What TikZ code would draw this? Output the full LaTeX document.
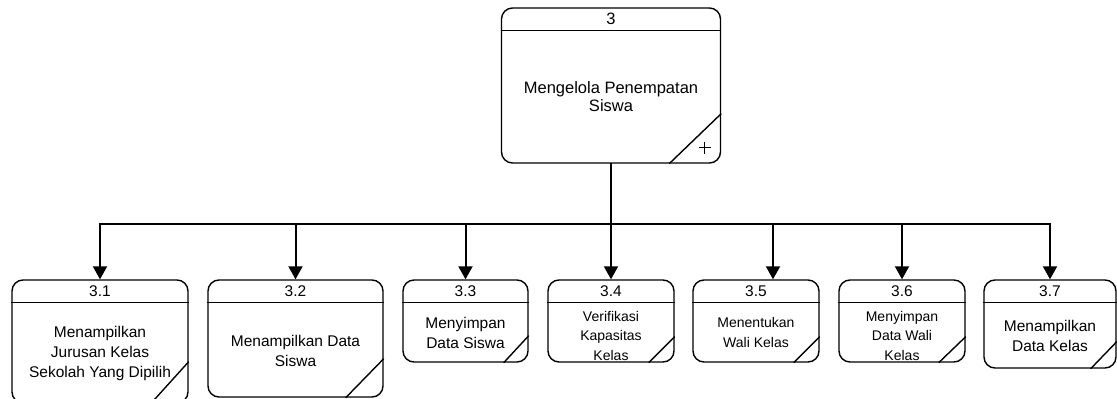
\documentclass[tikz,border=0pt]{standalone}
\usepackage{fontspec}
\setmainfont{Liberation Sans}
\usetikzlibrary{arrows.meta}
\tikzset{
  proc/.style={draw, line width=1.4pt, rounded corners=11pt, inner sep=0pt},
  sep/.style={line width=1.4pt},
  txt/.style={align=center, inner sep=0pt},
  bigtxt/.style={txt, font=\fontsize{16.5}{18}\selectfont},
  midtxt/.style={txt, font=\fontsize{15.5}{20}\selectfont},
  smalltxt/.style={txt, font=\fontsize{14}{19.5}\selectfont},
  bus/.style={line width=2pt, line cap=rect},
  arr/.style={line width=2pt, -{Triangle[length=13pt,width=14pt]}}
}
\begin{document}
\begin{tikzpicture}[x=1pt,y=-1pt]
\clip (0,0) rectangle (1117,399);

\node[proc, minimum width=219pt, minimum height=155pt] (p3) at (611,85.5) {};
\draw[sep] ([yshift=-23pt]p3.north west) -- ([yshift=-23pt]p3.north east);
\draw[sep] ([xshift=-52pt]p3.south east) -- ([yshift=50pt]p3.south east);
\draw[line width=0.8pt] (698.5,147.5) -- (710.5,147.5) (704.5,141.5) -- (704.5,153.5);
\node[bigtxt] (p3n) at ([yshift=-11.5pt]p3.north) {3};
\node[bigtxt] (p3t) at (611,97) {Mengelola Penempatan\\Siswa};

\node[proc, minimum width=176pt, minimum height=123pt] (p31) at (100,341.5) {};
\node[proc, minimum width=175pt, minimum height=117pt] (p32) at (295.5,338.5) {};
\node[proc, minimum width=125pt, minimum height=82pt] (p33) at (465.5,321) {};
\node[proc, minimum width=126pt, minimum height=82pt] (p34) at (611,321) {};
\node[proc, minimum width=126pt, minimum height=82pt] (p35) at (756,321) {};
\node[proc, minimum width=126pt, minimum height=82pt] (p36) at (902,321) {};
\node[proc, minimum width=132pt, minimum height=88pt] (p37) at (1050,324) {};

% header lines
\draw[sep] ([yshift=-23pt]p31.north west) -- ([yshift=-23pt]p31.north east);
\draw[sep] ([yshift=-23pt]p32.north west) -- ([yshift=-23pt]p32.north east);
\draw[sep] ([yshift=-23pt]p33.north west) -- ([yshift=-23pt]p33.north east);
\draw[sep] ([yshift=-23pt]p34.north west) -- ([yshift=-23pt]p34.north east);
\draw[sep] ([yshift=-23pt]p35.north west) -- ([yshift=-23pt]p35.north east);
\draw[sep] ([yshift=-23pt]p36.north west) -- ([yshift=-23pt]p36.north east);
\draw[sep] ([yshift=-23pt]p37.north west) -- ([yshift=-23pt]p37.north east);

% corner marks
\draw[sep] ([xshift=-38pt]p31.south east) -- ([yshift=42pt]p31.south east);
\draw[sep] ([xshift=-38pt]p32.south east) -- ([yshift=39pt]p32.south east);
\draw[sep] ([xshift=-25pt]p33.south east) -- ([yshift=27pt]p33.south east);
\draw[sep] ([xshift=-26pt]p34.south east) -- ([yshift=26pt]p34.south east);
\draw[sep] ([xshift=-26pt]p35.south east) -- ([yshift=26pt]p35.south east);
\draw[sep] ([xshift=-27pt]p36.south east) -- ([yshift=26pt]p36.south east);
\draw[sep] ([xshift=-26pt]p37.south east) -- ([yshift=27pt]p37.south east);

\node[midtxt] (p31n) at ([yshift=-11.5pt]p31.north) {3.1};
\node[midtxt] (p32n) at ([yshift=-11.5pt]p32.north) {3.2};
\node[midtxt] (p33n) at ([yshift=-11.5pt]p33.north) {3.3};
\node[midtxt] (p34n) at ([yshift=-11.5pt]p34.north) {3.4};
\node[midtxt] (p35n) at ([yshift=-11.5pt]p35.north) {3.5};
\node[midtxt] (p36n) at ([yshift=-11.5pt]p36.north) {3.6};
\node[midtxt] (p37n) at ([yshift=-11.5pt]p37.north) {3.7};

\node[midtxt] (p31t) at (100,353) {Menampilkan\\Jurusan Kelas\\Sekolah Yang Dipilih};
\node[midtxt] (p32t) at (295.5,350.5) {Menampilkan Data\\Siswa};
\node[midtxt] (p33t) at (465.5,332.5) {Menyimpan\\Data Siswa};
\node[smalltxt] (p34t) at (611,335.5) {Verifikasi\\Kapasitas\\Kelas};
\node[smalltxt] (p35t) at (756,332.5) {Menentukan\\Wali Kelas};
\node[smalltxt] (p36t) at (902,335.5) {Menyimpan\\Data Wali\\Kelas};
\node[midtxt] (p37t) at (1050,336) {Menampilkan\\Data Kelas};

\coordinate (b1) at (100,224);
\coordinate (b2) at (295.5,224);
\coordinate (b3) at (465.5,224);
\coordinate (b4) at (611,224);
\coordinate (b5) at (773,224);
\coordinate (b6) at (902,224);
\coordinate (b7) at (1050,224);

\draw[bus] (b1) -- (b7);
\draw[bus] (p3) -- (b4);
\draw[arr] (b1) -- (b1 |- p31.north);
\draw[arr] (b2) -- (b2 |- p32.north);
\draw[arr] (b3) -- (b3 |- p33.north);
\draw[arr] (b4) -- (b4 |- p34.north);
\draw[arr] (b5) -- (b5 |- p35.north);
\draw[arr] (b6) -- (b6 |- p36.north);
\draw[arr] (b7) -- (b7 |- p37.north);
\end{tikzpicture}
\end{document}
